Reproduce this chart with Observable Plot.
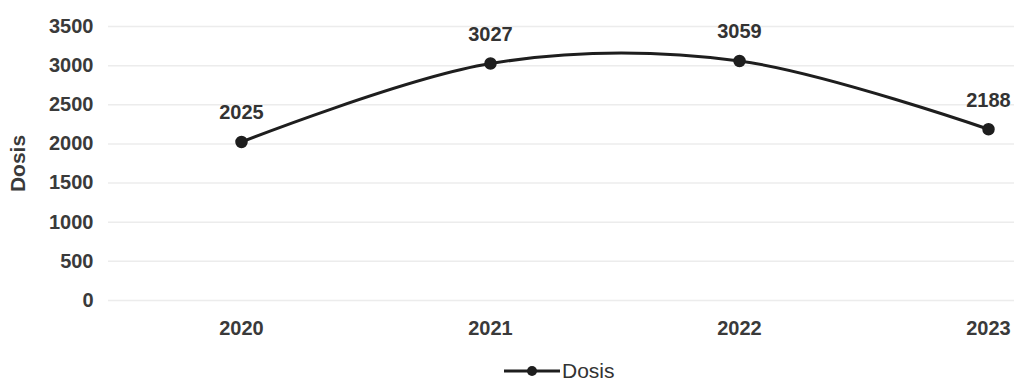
<!DOCTYPE html>
<html><head><meta charset="utf-8">
<script src="https://cdn.jsdelivr.net/npm/d3@7"></script>
<script src="https://cdn.jsdelivr.net/npm/@observablehq/plot@0.6"></script>
<style>
body{margin:0;background:#fff;font-family:"Liberation Sans",Arial,sans-serif;}
#wrap{position:relative;width:1014px;height:381px;overflow:hidden;}
#legend{position:absolute;left:504px;top:361px;display:flex;align-items:center;font-size:21px;color:#333;line-height:20px;height:20px;}
#legend svg{margin-right:2px;}
</style></head><body><div id="wrap"></div>
<script>
const years = ["2020", "2021", "2022", "2023"];
const dosis = [2025, 3027, 3059, 2188];
const yTicks = [0, 500, 1000, 1500, 2000, 2500, 3000, 3500];
const seriesName = "Dosis";
const data = years.map((y, i) => ({year: y, value: dosis[i]}));
const font = "'Liberation Sans', Arial, sans-serif";
const chart = Plot.plot({
  width: 1014, height: 355,
  marginTop: 26, marginBottom: 55, marginLeft: 108, marginRight: 0,
  style: {fontFamily: font, background: "transparent", overflow: "visible"},
  x: {type: "point", domain: years, range: [240, 988], padding: 0},
  y: {domain: [0, 3500]},
  marks: [
    Plot.ruleY(yTicks, {stroke: "#ececec", strokeWidth: 1.5}),
    Plot.axisY({ticks: yTicks, tickFormat: d => String(d), tickSize: 0, tickPadding: 15, fontSize: 20, fontWeight: "bold", fill: "#3a3a3a", label: null}),
    Plot.text([seriesName], {frameAnchor: "left", textAnchor: "middle", text: d => d, rotate: -90, dx: -90, fontSize: 21, fontWeight: "bold", fill: "#3a3a3a"}),
    Plot.axisX({tickSize: 0, tickPadding: 20, fontSize: 20, fontWeight: "bold", fill: "#3a3a3a", label: null}),
    Plot.line(data, {x: "year", y: "value", curve: "cardinal", stroke: "#1e1e1e", strokeWidth: 3}),
    Plot.dot(data, {x: "year", y: "value", r: 5.5, fill: "#1e1e1e", stroke: "#1e1e1e"}),
    Plot.text(data, {x: "year", y: "value", text: d => String(d.value), dy: -29, fontSize: 20, fontWeight: "bold", fill: "#333"})
  ]
});
const wrap = document.getElementById("wrap");
wrap.appendChild(chart);
const legend = document.createElement("div");
legend.id = "legend";
legend.innerHTML = `<svg width="56" height="14"><line x1="0" x2="56" y1="7" y2="7" stroke="#1e1e1e" stroke-width="3"/><circle cx="28" cy="7" r="5" fill="#1e1e1e"/></svg><span>${seriesName}</span>`;
wrap.appendChild(legend);
</script>
</body></html>
